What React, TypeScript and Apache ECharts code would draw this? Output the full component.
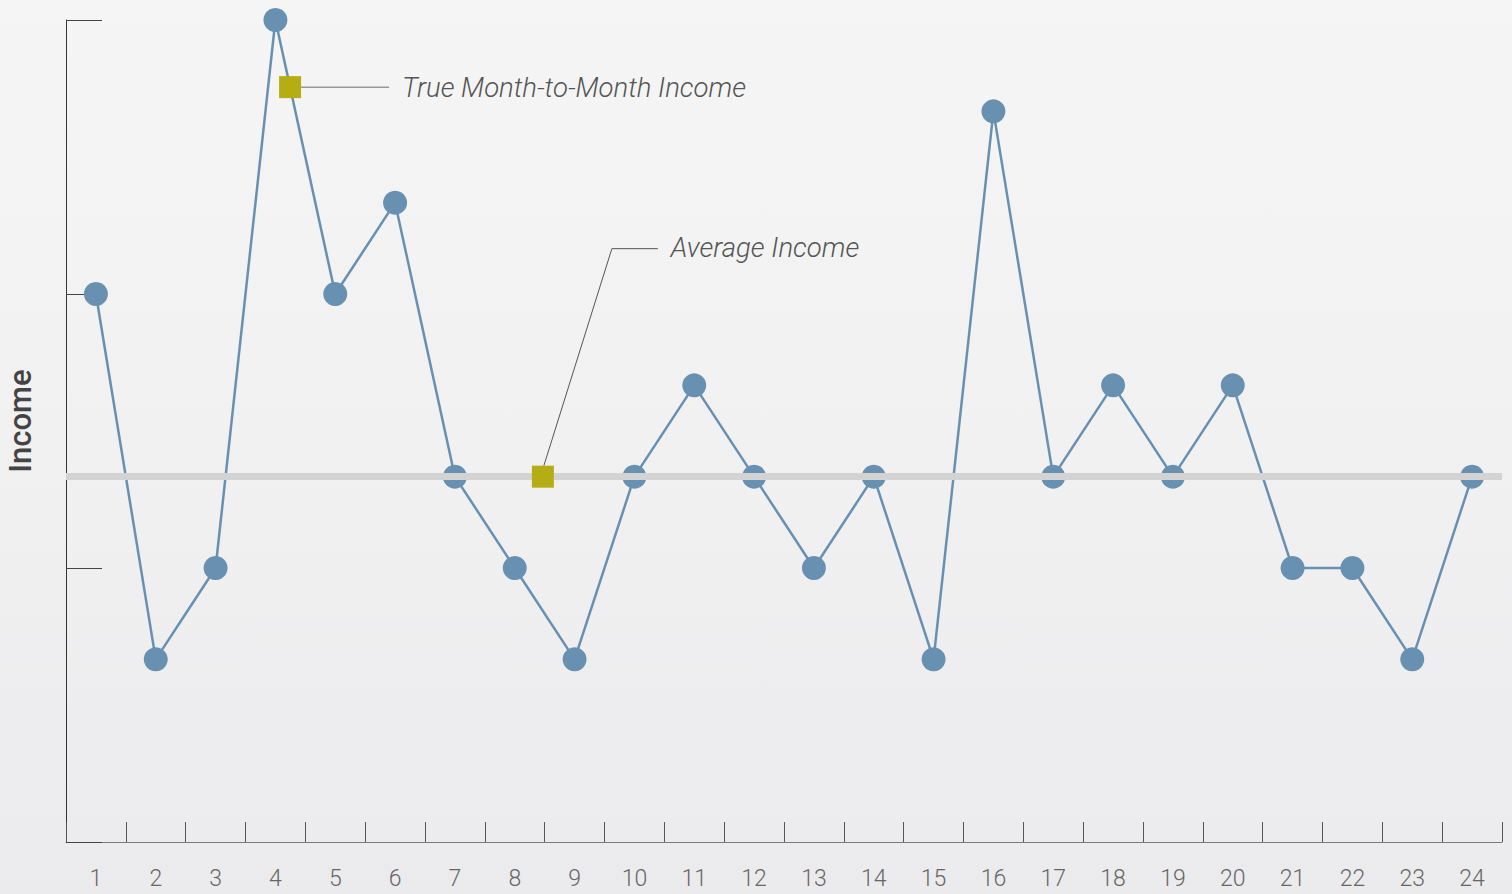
import React, { useEffect, useRef } from "react";
import * as echarts from "echarts";

const months = ["1","2","3","4","5","6","7","8","9","10","11","12","13","14","15","16","17","18","19","20","21","22","23","24"];
const incomeValues = [6, 2, 3, 9, 6, 7, 4, 3, 2, 4, 5, 4, 3, 4, 2, 8, 4, 5, 4, 5, 3, 3, 2, 4];
const averageIncome = 4;
const yMin = 0;
const yMax = 9;
const yInterval = 3;
const annotationLabels = ["True Month-to-Month Income", "Average Income"];

const FONT = "Roboto, 'Helvetica Neue', Helvetica, Arial, sans-serif";

export default function App() {
  const ref = useRef<HTMLDivElement>(null);

  useEffect(() => {
    document.body.style.margin = "0";
    const chart = echarts.init(ref.current!, null, { renderer: "svg" });
    chart.setOption({
      animation: false,
      backgroundColor: "transparent",
      grid: { left: 66, right: 10, top: 20, bottom: 52, containLabel: false, outerBoundsMode: "none" },
      xAxis: {
        type: "category",
        data: months,
        boundaryGap: true,
        axisLine: { show: true, lineStyle: { color: "#7a7a7a", width: 1 } },
        axisTick: { show: true, inside: true, length: 20, alignWithLabel: false, interval: 0, lineStyle: { color: "#555", width: 1 } },
        axisLabel: { color: "#666", fontSize: 23, fontFamily: FONT, fontWeight: 300, margin: 25, interval: 0 },
        splitLine: { show: false },
      },
      yAxis: {
        type: "value",
        min: yMin,
        max: yMax,
        interval: yInterval,
        name: "Income",
        nameLocation: "middle",
        nameGap: 30,
        nameTextStyle: { color: "#444", fontSize: 31, fontFamily: FONT, fontWeight: 500, padding: [0, 0, 0, 20] },
        axisLine: { show: true, lineStyle: { color: "#333", width: 1 } },
        axisTick: { show: true, inside: true, length: 36, lineStyle: { color: "#444", width: 1 } },
        axisLabel: { show: false },
        splitLine: { show: false },
      },
      series: [
        {
          name: "Average",
          type: "line",
          data: [],
          z: 1,
          markLine: {
            silent: true,
            symbol: "none",
            label: { show: false },
            lineStyle: { color: "#d3d3d4", width: 7, type: "solid" },
            data: [{ yAxis: averageIncome }],
          },
        },
        {
          name: "Income",
          type: "line",
          data: incomeValues,
          z: 3,
          symbol: "circle",
          symbolSize: 24,
          lineStyle: { color: "#6890b1", width: 2.5 },
          itemStyle: { color: "#6890b1" },
        },
      ],
    });

    const px = (i: number, v: number) => chart.convertToPixel({ gridIndex: 0 }, [i, v]) as number[];
    const a = px(3, incomeValues[3]);
    const b = px(4, incomeValues[4]);
    const t1 = 0.245;
    const s1 = [a[0] + (b[0] - a[0]) * t1, a[1] + (b[1] - a[1]) * t1];
    const c = px(7, averageIncome);
    const d = px(8, averageIncome);
    const t2 = 0.47;
    const s2 = [c[0] + (d[0] - c[0]) * t2, c[1]];
    const half = 11;

    chart.setOption({
      graphic: [
        {
          type: "line",
          z: 10,
          shape: { x1: s1[0] + half, y1: s1[1], x2: s1[0] + 99, y2: s1[1] },
          style: { stroke: "#999", lineWidth: 1.5 },
        },
        {
          type: "rect",
          z: 11,
          shape: { x: s1[0] - half, y: s1[1] - half, width: half * 2, height: half * 2 },
          style: { fill: "#b4ad14" },
        },
        {
          type: "text",
          z: 11,
          x: s1[0] + 112,
          y: s1[1],
          style: {
            text: annotationLabels[0],
            fill: "#555",
            fontSize: 27.5,
            fontStyle: "italic",
            fontWeight: 300,
            fontFamily: FONT,
            verticalAlign: "middle",
            align: "left",
          },
        },
        {
          type: "polyline",
          z: 10,
          shape: { points: [[s2[0] + 1, s2[1] - half], [s2[0] + 69, s2[1] - 228], [s2[0] + 115, s2[1] - 228]] },
          style: { stroke: "#555", lineWidth: 1, fill: "none" },
        },
        {
          type: "rect",
          z: 11,
          shape: { x: s2[0] - half, y: s2[1] - half, width: half * 2, height: half * 2 },
          style: { fill: "#b4ad14" },
        },
        {
          type: "text",
          z: 11,
          x: s2[0] + 128,
          y: s2[1] - 229,
          style: {
            text: annotationLabels[1],
            fill: "#555",
            fontSize: 27.5,
            fontStyle: "italic",
            fontWeight: 300,
            fontFamily: FONT,
            verticalAlign: "middle",
            align: "left",
          },
        },
      ],
    });

    return () => chart.dispose();
  }, []);

  return (
    <div
      style={{
        position: "absolute",
        left: 0,
        top: 0,
        width: 1512,
        height: 894,
        background: "linear-gradient(to bottom, #f5f5f5 0%, #f1f1f2 50%, #ebebed 100%)",
      }}
    >
      <div ref={ref} style={{ width: 1512, height: 894 }} />
    </div>
  );
}
